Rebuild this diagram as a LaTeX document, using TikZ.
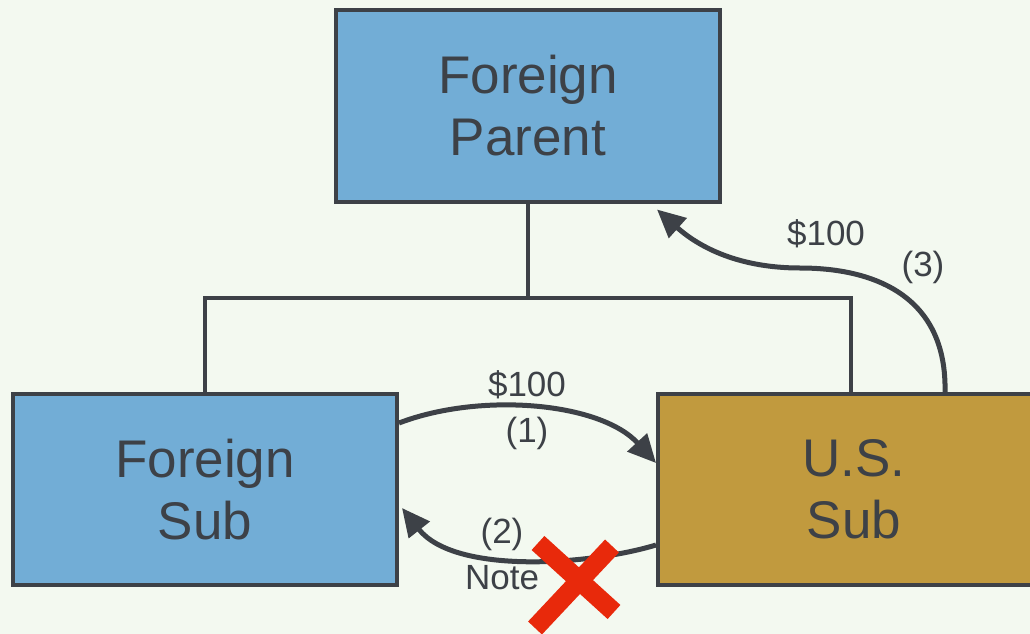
\documentclass[tikz,border=0pt]{standalone}
\usepackage{fontspec}
\setmainfont{Liberation Sans}
\usetikzlibrary{arrows.meta,calc}
\definecolor{bg}{HTML}{F3F9F0}
\definecolor{ink}{HTML}{3D4147}
\definecolor{blueBox}{HTML}{72ADD6}
\definecolor{goldBox}{HTML}{C19A3E}
\definecolor{crossRed}{HTML}{E8290B}
\begin{document}
\begin{tikzpicture}[x=1pt,y=-1pt,
  entity/.style={draw=ink,line width=4pt,minimum width=384pt,minimum height=191pt,
    inner sep=0pt,align=center,text=ink,font=\fontsize{53}{62}\selectfont},
  tree/.style={draw=ink,line width=4pt},
  flow/.style={draw=ink,line width=5pt,-{Triangle[length=28pt,width=26pt]}},
  lbl/.style={text=ink,font=\fontsize{35}{40}\selectfont,inner sep=0pt}]
\fill[bg] (0,0) rectangle (1030,634);
\useasboundingbox (0,0) rectangle (1030,634);

% entities
\node[entity,fill=blueBox] (fp) at (528,106) {Foreign\\Parent};
\node[entity,fill=blueBox] (fs) at (205,489.5) {Foreign\\Sub};
\node[entity,fill=goldBox,minimum width=392pt] (us) at (854,489.5) {U.S.\\Sub};

% ownership tree
\coordinate (bar) at (528,298);
\draw[tree] (fp.south) -- (bar);
\draw[tree] (fs.north) |- (bar) -| (851,394);

% (1) loan from foreign sub to U.S. sub
\draw[flow] ($(fs.north east)+(0,31)$) .. controls (480,392) and (600,402) .. ($(us.north west)+(0,71)$);
\node[lbl] (amt1) at (527,385) {\$100};
\node[lbl] (n1) at (527,433) {(1)};

% (2) note back to foreign sub
\draw[flow] ($(us.south west)+(0,-42)$) .. controls (590,565) and (455,575) .. ($(fs.south east)+(3,-79)$);
\node[lbl] (n2) at (502,534) {(2)};
\node[lbl] (note) at (502,578) {Note};

% crossed-out note
\draw[crossRed,line width=19pt] (538,543) -- (614,612);
\draw[crossRed,line width=19pt] (612,546) -- (535,628);

% (3) payment from U.S. sub to foreign parent
\draw[flow] ($(us.north west)+(289,0)$) .. controls (947,300) and (880,268) .. (800,268)
  .. controls (740,268) and (700,248) .. ($(fp.south east)+(-65,6)$);
\node[lbl] (amt3) at (826,234) {\$100};
\node[lbl] (n3) at (923,267) {(3)};
\end{tikzpicture}
\end{document}
